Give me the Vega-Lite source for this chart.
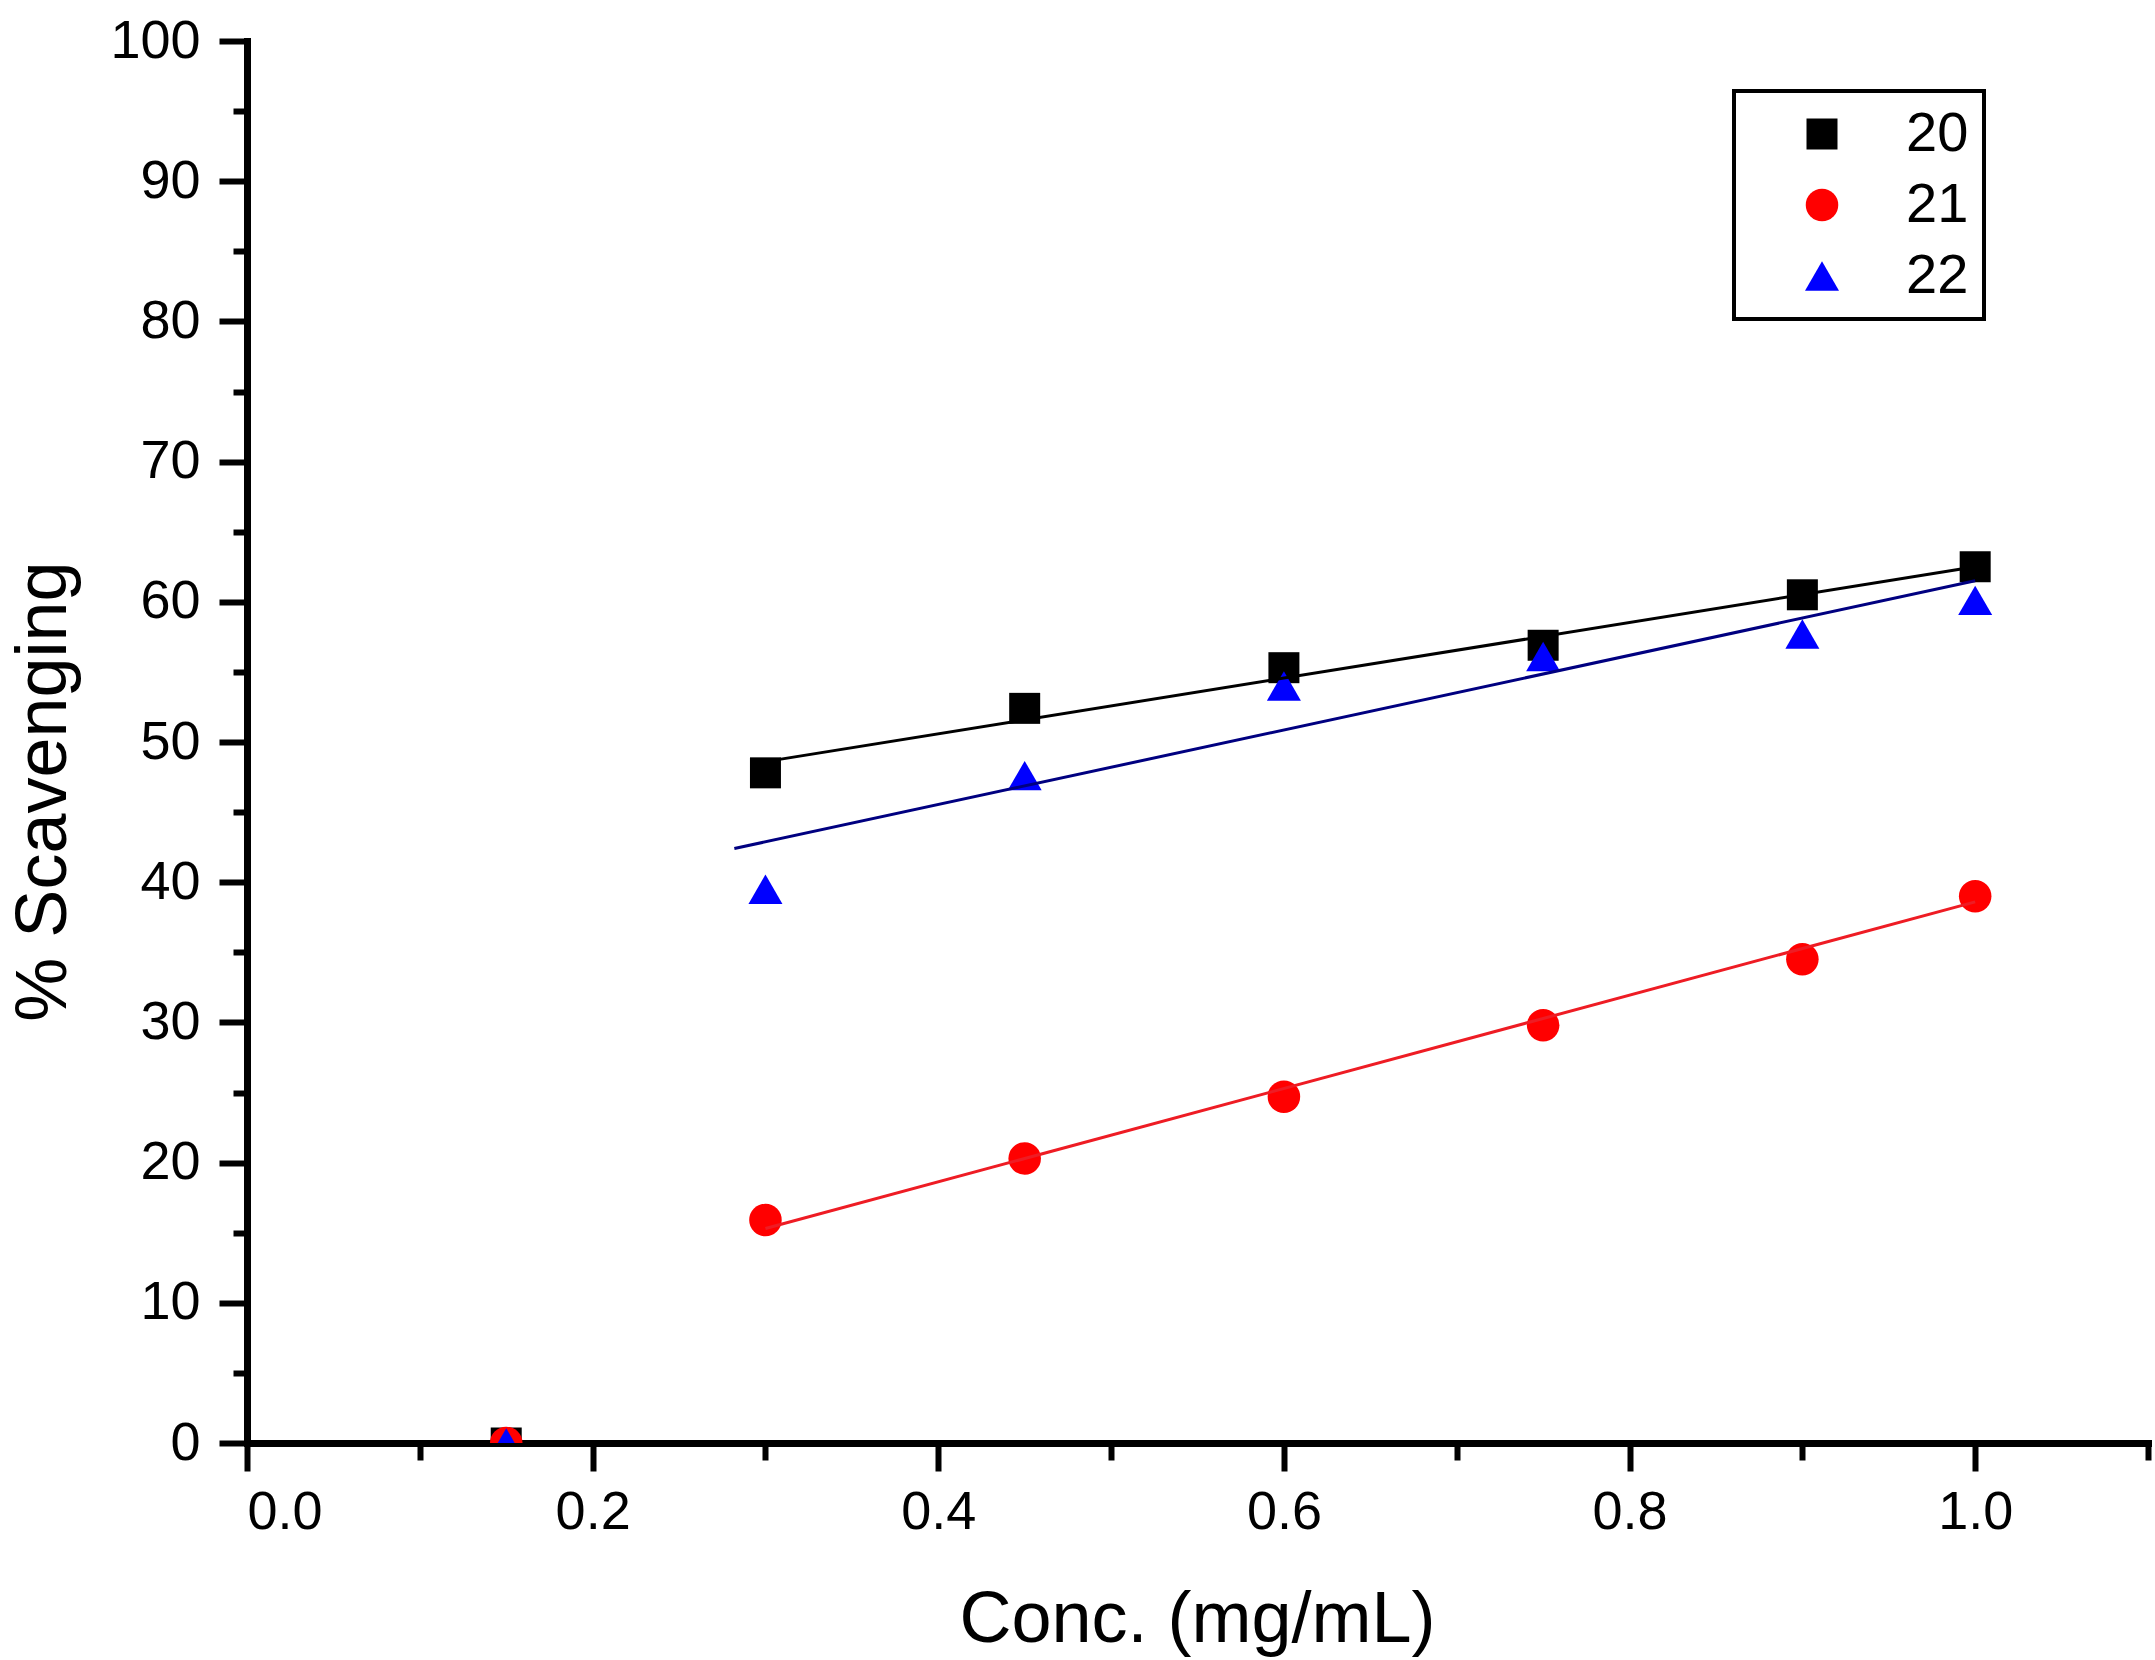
{
  "$schema": "https://vega.github.io/schema/vega-lite/v6.json",
  "width": 1901,
  "height": 1402,
  "autosize": {"type": "none"},
  "padding": {"left": 247, "top": 41, "right": 7, "bottom": 217},
  "background": "white",
  "config": {
    "view": {"stroke": null},
    "font": "Liberation Sans",
    "axis": {
      "domainColor": "black",
      "tickColor": "black",
      "labelColor": "black",
      "titleColor": "black",
      "grid": false,
      "labelFont": "Liberation Sans",
      "titleFont": "Liberation Sans",
      "labelFontSize": 54,
      "titleFontSize": 72,
      "titleFontWeight": "normal",
      "domainWidth": 7,
      "domainCap": "square",
      "tickWidth": 6,
      "tickSize": 28,
      "zindex": 1
    },
    "legend": {
      "strokeColor": "black",
      "strokeWidth": 4,
      "fillColor": "white",
      "padding": 15,
      "rowPadding": 15,
      "symbolOffset": 45,
      "labelOffset": 56,
      "cornerRadius": 0,
      "labelFontSize": 56,
      "labelFont": "Liberation Sans",
      "labelColor": "black",
      "symbolSize": 780,
      "symbolStrokeWidth": 0
    }
  },
  "datasets": {
    "points": [
      {"series": "20", "conc": 0.15, "value": 0},
      {"series": "20", "conc": 0.3, "value": 47.8},
      {"series": "20", "conc": 0.45, "value": 52.4},
      {"series": "20", "conc": 0.6, "value": 55.3},
      {"series": "20", "conc": 0.75, "value": 56.9},
      {"series": "20", "conc": 0.9, "value": 60.5},
      {"series": "20", "conc": 1.0, "value": 62.5},
      {"series": "21", "conc": 0.15, "value": 0},
      {"series": "21", "conc": 0.3, "value": 15.9},
      {"series": "21", "conc": 0.45, "value": 20.3},
      {"series": "21", "conc": 0.6, "value": 24.7},
      {"series": "21", "conc": 0.75, "value": 29.8},
      {"series": "21", "conc": 0.9, "value": 34.5},
      {"series": "21", "conc": 1.0, "value": 39.0},
      {"series": "22", "conc": 0.15, "value": 0},
      {"series": "22", "conc": 0.3, "value": 39.5},
      {"series": "22", "conc": 0.45, "value": 47.6},
      {"series": "22", "conc": 0.6, "value": 54.0},
      {"series": "22", "conc": 0.75, "value": 56.1},
      {"series": "22", "conc": 0.9, "value": 57.7},
      {"series": "22", "conc": 1.0, "value": 60.1}
    ],
    "fits": [
      {"series": "20", "conc": 0.3, "value": 48.6},
      {"series": "20", "conc": 1.0, "value": 62.5},
      {"series": "21", "conc": 0.3, "value": 15.3},
      {"series": "21", "conc": 1.0, "value": 38.6},
      {"series": "22", "conc": 0.282, "value": 42.4},
      {"series": "22", "conc": 1.0, "value": 61.5}
    ]
  },
  "resolve": {"axis": {"x": "independent", "y": "independent"}},
  "layer": [
    {
      "data": {"name": "points"},
      "mark": {"type": "point", "opacity": 0},
      "encoding": {
        "x": {
          "field": "conc", "type": "quantitative",
          "scale": {"domain": [0, 1.1], "nice": false, "zero": false},
          "axis": {"orient": "bottom", "values": [0.1, 0.3, 0.5, 0.7, 0.9, 1.1], "labels": false, "domain": false, "tickSize": 17, "title": null}
        },
        "y": {
          "field": "value", "type": "quantitative",
          "scale": {"domain": [0, 100], "nice": false, "zero": false},
          "axis": {"orient": "left", "values": [5, 15, 25, 35, 45, 55, 65, 75, 85, 95], "labels": false, "domain": false, "tickSize": 14, "title": null}
        }
      }
    },
    {
      "data": {"name": "points"},
      "mark": {"type": "point", "filled": true, "clip": true, "strokeWidth": 0, "opacity": 1},
      "encoding": {
        "x": {
          "field": "conc", "type": "quantitative",
          "scale": {"domain": [0, 1.1], "nice": false, "zero": false},
          "axis": {
            "orient": "bottom",
            "values": [0, 0.2, 0.4, 0.6, 0.8, 1.0],
            "format": ".1f",
            "labelPadding": 14,
            "title": "Conc. (mg/mL)",
            "titleX": 950,
            "titleY": 198,
            "titleBaseline": "alphabetic",
            "titleAlign": "center"
          }
        },
        "y": {
          "field": "value", "type": "quantitative",
          "scale": {"domain": [0, 100], "nice": false, "zero": false},
          "axis": {
            "orient": "left",
            "values": [0, 10, 20, 30, 40, 50, 60, 70, 80, 90, 100],
            "labelPadding": 19,
            "title": "% Scavenging",
            "titleX": -182,
            "titleY": 750,
            "titleAngle": -90,
            "titleBaseline": "alphabetic",
            "titleAlign": "center"
          }
        },
        "color": {
          "field": "series", "type": "nominal",
          "scale": {"domain": ["20", "21", "22"], "range": ["#000000", "#ff0000", "#0000ff"]},
          "legend": {
            "title": null,
            "orient": "none",
            "legendX": 1487,
            "legendY": 50,
            "direction": "vertical"
          }
        },
        "shape": {
          "field": "series", "type": "nominal",
          "scale": {"domain": ["20", "21", "22"], "range": ["square", "circle", "triangle-up"]}
        },
        "size": {
          "field": "series", "type": "ordinal",
          "scale": {"domain": ["20", "21", "22"], "range": [961, 1156, 1600]},
          "legend": null
        }
      }
    },
    {
      "data": {"name": "fits"},
      "mark": {"type": "line", "strokeWidth": 3, "clip": true},
      "encoding": {
        "x": {
          "field": "conc", "type": "quantitative",
          "scale": {"domain": [0, 1.1], "nice": false, "zero": false},
          "axis": null
        },
        "y": {
          "field": "value", "type": "quantitative",
          "scale": {"domain": [0, 100], "nice": false, "zero": false},
          "axis": null
        },
        "stroke": {
          "field": "series", "type": "nominal",
          "scale": {"domain": ["20", "21", "22"], "range": ["#000000", "#ee1c24", "#000080"]},
          "legend": null
        }
      }
    }
  ]
}
